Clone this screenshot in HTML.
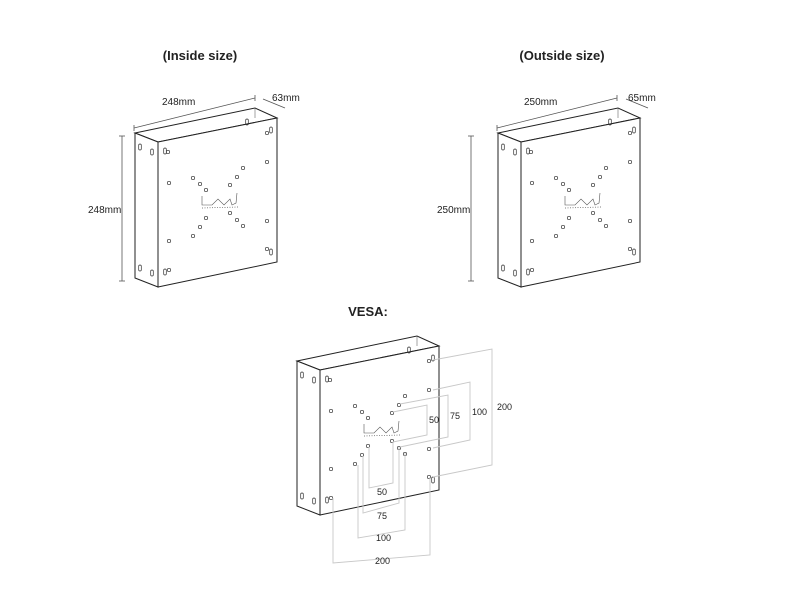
<!DOCTYPE html>
<html><head><meta charset="utf-8"><style>
html,body{margin:0;padding:0;background:#fff;width:800px;height:600px;overflow:hidden}
svg{display:block}
text{font-family:"Liberation Sans",Arial,sans-serif;fill:#222}
</style></head><body>
<svg id="s" width="800" height="600" viewBox="0 0 800 600" xmlns="http://www.w3.org/2000/svg">
<text x="200" y="60" font-size="13" font-weight="bold" text-anchor="middle">(Inside size)</text>
<text x="562" y="60" font-size="13" font-weight="bold" text-anchor="middle">(Outside size)</text>
<text x="368" y="316" font-size="13" font-weight="bold" text-anchor="middle">VESA:</text>
<g stroke="#555" stroke-width="0.8" fill="none">
<polyline points="134,128 255,98"/><line x1="134" y1="125" x2="134" y2="131"/><line x1="255" y1="95" x2="255" y2="101"/>
<polyline points="263,99 285,108"/>
<line x1="122" y1="136" x2="122" y2="281"/><line x1="119" y1="136" x2="125" y2="136"/><line x1="119" y1="281" x2="125" y2="281"/>
<polyline points="497,128 617,98"/><line x1="497" y1="125" x2="497" y2="131"/><line x1="617" y1="95" x2="617" y2="101"/>
<polyline points="626,99 648,108"/>
<line x1="471" y1="136" x2="471" y2="281"/><line x1="468" y1="136" x2="474" y2="136"/><line x1="468" y1="281" x2="474" y2="281"/>
</g>
<text x="162" y="105" font-size="10">248mm</text>
<text x="272" y="101" font-size="10">63mm</text>
<text x="88" y="213" font-size="10">248mm</text>
<text x="524" y="105" font-size="10">250mm</text>
<text x="628" y="101" font-size="10">65mm</text>
<text x="437" y="213" font-size="10">250mm</text>
<g id="boxes"></g>
<g stroke="#c8c8c8" stroke-width="0.9" fill="none">
<polyline points="433,360 492,349 492,465 433,477"/>
<polyline points="433,390 470,382 470,440 433,448"/>
<polyline points="400,404 448,395 448,437 400,447"/>
<polyline points="393,412 427,405 427,435 393,442"/>
<polyline points="369,447 369,488 393,483 393,442"/>
<polyline points="363,456 363,513 399,503 399,447"/>
<polyline points="358,465 358,538 405,530 405,453"/>
<polyline points="333,498 333,563 430,555 430,477"/>
</g>
<g font-size="9">
<text x="497" y="410">200</text><text x="472" y="415">100</text><text x="450" y="419">75</text><text x="429" y="423">50</text>
<text x="377" y="495">50</text><text x="377" y="519">75</text><text x="376" y="541">100</text><text x="375" y="564">200</text>
</g>
</svg>
<script>
var NS="http://www.w3.org/2000/svg",g=document.getElementById("boxes");
function el(t,a){var e=document.createElementNS(NS,t);for(var k in a)e.setAttribute(k,a[k]);g.appendChild(e);return e;}
function box(dx,dy){
 function P(x,y){return (x+dx)+","+(y+dy);}
 var s={stroke:"#222","stroke-width":1,fill:"#fff"};
 el("polygon",Object.assign({points:[P(135,133),P(255,108),P(277,118),P(158,142)].join(" ")},s));
 el("polygon",Object.assign({points:[P(135,133),P(158,142),P(158,287),P(135,278)].join(" ")},s));
 el("polygon",Object.assign({points:[P(158,142),P(277,118),P(277,262),P(158,287)].join(" ")},s));
 el("line",{x1:255+dx,y1:108+dy,x2:255+dx,y2:118+dy,stroke:"#666","stroke-width":0.6});
 var holes=[[168,152],[169,183],[169,241],[169,270],[267,133],[267,162],[267,221],[267,249],
 [193,178],[200,184],[206,190],[243,168],[237,177],[230,185],[206,218],[200,227],[193,236],[230,213],[237,220],[243,226]];
 holes.forEach(function(h){el("circle",{cx:h[0]+dx,cy:h[1]+dy,r:1.7,stroke:"#333","stroke-width":0.7,fill:"none"});});
 var slots=[[165,151],[165,272],[271,130],[271,252],[140,147],[152,152],[140,268],[152,273],[247,122]];
 slots.forEach(function(h){el("rect",{x:h[0]-1.3+dx,y:h[1]-3+dy,width:2.6,height:6,rx:1.3,stroke:"#333","stroke-width":0.7,fill:"none"});});
 el("polyline",{points:[P(202,196),P(202,205),P(212,205),P(218,199),P(224,205),P(230,199),P(232,205),P(236,203),P(237,193)].join(" "),stroke:"#555","stroke-width":0.6,fill:"none"});
 el("line",{x1:202+dx,y1:208+dy,x2:238+dx,y2:207+dy,stroke:"#555","stroke-width":0.7,"stroke-dasharray":"1,1.5"});
}
box(0,0);box(363,0);box(162,228);
</script>
</body></html>
